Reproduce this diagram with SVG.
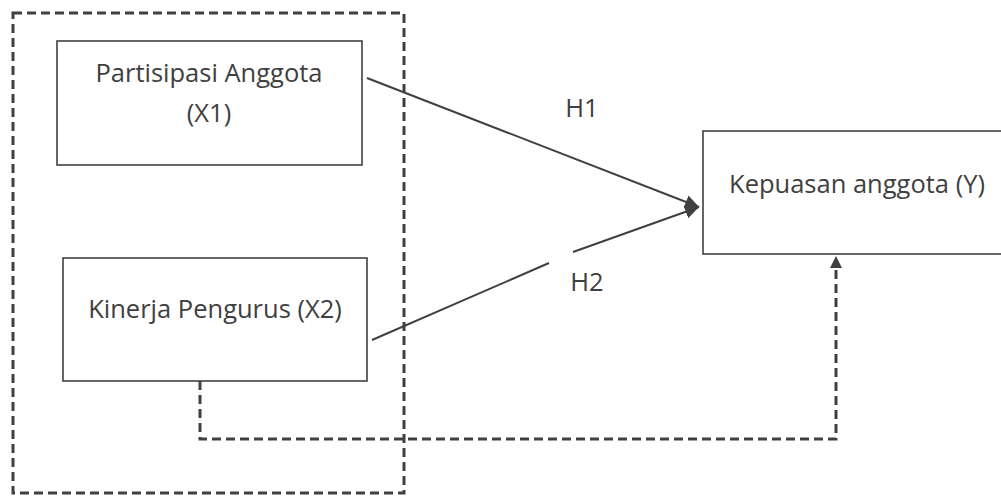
<svg xmlns="http://www.w3.org/2000/svg" width="1001" height="496" viewBox="0 0 1001 496">
<style>
.box{fill:#fff;stroke:#404040;stroke-width:1.6}
.dash{fill:none;stroke:#404040;stroke-width:3;stroke-dasharray:9 5}
.line{fill:none;stroke:#404040;stroke-width:2}
text{font-family:"Open Sans","Noto Sans",sans-serif;font-size:25.5px;fill:#404040;text-anchor:middle}
</style>
<defs>
<marker id="ah" viewBox="0 0 10 10" refX="10" refY="5" markerWidth="7" markerHeight="7" orient="auto" markerUnits="strokeWidth">
<path d="M0,0 L10,5 L0,10 z" fill="#404040"/>
</marker>
</defs>
<rect width="1001" height="496" fill="#fff"/>
<g id="group-x">
<rect class="dash" x="13" y="13" width="391" height="480"/>
</g>
<g id="node-x1">
<rect class="box" x="57" y="41" width="305" height="124"/>
<text x="209" y="82">Partisipasi Anggota</text>
<text x="209" y="122">(X1)</text>
</g>
<g id="node-x2">
<rect class="box" x="63" y="258" width="304" height="123"/>
<text x="215" y="318">Kinerja Pengurus (X2)</text>
</g>
<g id="node-y">
<rect class="box" x="703" y="131" width="310" height="123"/>
<text x="857" y="193">Kepuasan anggota (Y)</text>
</g>
<g id="connectors">
<line class="line" x1="367" y1="78" x2="699" y2="207" marker-end="url(#ah)"/>
<path class="line" d="M372,340 L549,263 M573,252 L699,207" marker-end="url(#ah)"/>
<path class="dash" d="M200,381 V439 H836 V266"/>
<path d="M836,256 L830,268 L842,268 z" fill="#404040"/>
<text x="582" y="117">H1</text>
<text x="587" y="291">H2</text>
</g>
</svg>
